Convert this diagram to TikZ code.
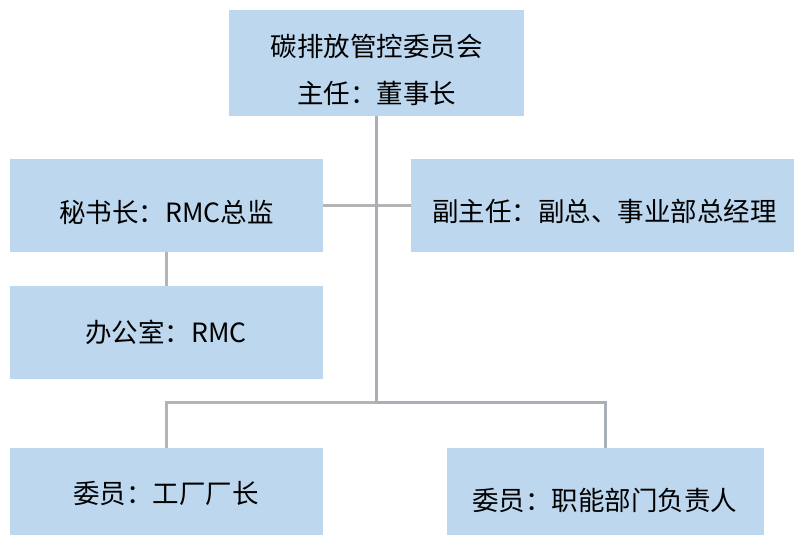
\documentclass[tikz,border=0pt]{standalone}
\usepackage{fontspec}
\setmainfont{Noto Sans CJK SC}
\begin{document}
\begin{tikzpicture}[x=1pt,y=-1pt,
  box/.style={draw=none,fill=boxblue,inner sep=0pt},
  lbl/.style={inner sep=0pt,anchor=base,font=\fontsize{26.5}{48}\selectfont,text=black},
  conn/.style={draw=linegray,line width=2.6pt},
  connb/.style={draw=linebluegray,line width=2.6pt}]
\definecolor{boxblue}{HTML}{BDD7EE}
\definecolor{linegray}{HTML}{B4B4B4}
\definecolor{linebluegray}{HTML}{A8AFB7}
\useasboundingbox (0,0) rectangle (794,535);
\node[box,minimum width=295pt,minimum height=106pt] (top) at (376.5,63) {};
\node[box,minimum width=313pt,minimum height=93pt] (sec) at (166.5,205.5) {};
\node[box,minimum width=383pt,minimum height=93pt] (vice) at (602.5,205.5) {};
\node[box,minimum width=313pt,minimum height=93pt] (office) at (166.5,332.5) {};
\node[box,minimum width=313pt,minimum height=87pt] (fact) at (166.5,491.5) {};
\node[box,minimum width=317pt,minimum height=87pt] (func) at (605.5,491.5) {};
\node[lbl] (topa) at (376.5,56.5) {碳排放管控委员会};
\node[lbl] (topb) at (376.5,103.5) {主任：董事长};
\node[lbl] (sect) at (166.5,222) {秘书长：RMC总监};
\node[lbl] (vicet) at (604.5,221.5) {副主任：副总、事业部总经理};
\node[lbl] (officet) at (166,342) {办公室：RMC};
\node[lbl] (factt) at (166,503) {委员：工厂厂长};
\node[lbl] (funct) at (604.5,510) {委员：职能部门负责人};
\coordinate (j) at (376.5,402.5);
\draw[conn] (sec.east) -- (vice.west);
\draw[conn] (sec.south) -- (office.north);
\draw[conn] (j) -| (fact.north);
\draw[connb] (j) -| (func.north);
\draw[connb] (top.south) -- (j);
\end{tikzpicture}
\end{document}
